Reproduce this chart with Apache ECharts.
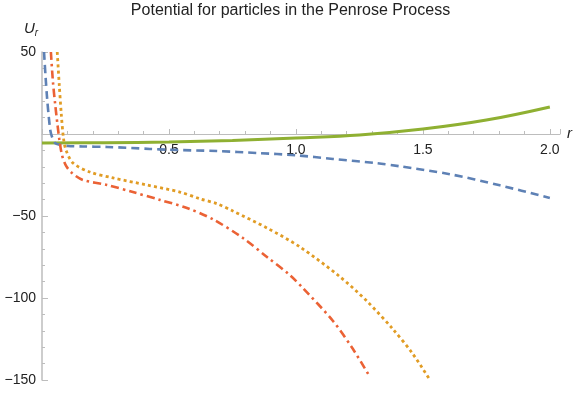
<!DOCTYPE html>
<html>
<head>
<meta charset="utf-8">
<script src="https://cdn.jsdelivr.net/npm/echarts@6/dist/echarts.min.js"></script>
<style>
  html, body { margin: 0; padding: 0; background: #fff; }
  #chart { width: 581px; height: 393px; }
</style>
</head>
<body>
<div id="chart"></div>
<script>
// values
const blueR = [0.008, 0.014, 0.02, 0.027, 0.033, 0.04, 0.051, 0.07, 0.102, 0.16, 0.256, 0.425, 0.5, 0.689, 0.85, 1.0, 1.146, 1.319, 1.409, 1.606, 1.803, 2.0];
const blueU = [50, 35, 22, 10, 2, -2, -5.5, -6.6, -7.3, -7.6, -7.9, -9.1, -9.6, -10.4, -11.6, -13, -15.2, -17.8, -19.7, -24.5, -31.3, -39];

const orangeR = [0.06, 0.068, 0.076, 0.085, 0.095, 0.122, 0.189, 0.28, 0.413, 0.543, 0.622, 0.689, 0.752, 0.886, 1.016, 1.173, 1.28, 1.382, 1.46, 1.528];
const orangeU = [50, 30, 12, -3, -10, -17.7, -23.2, -26.8, -31.1, -35.4, -39.5, -42.5, -47, -57.3, -68.9, -87, -102, -119, -134, -150];

const greenR = [0, 0.25, 0.5, 0.75, 1.0, 1.25, 1.5, 1.75, 2.0];
const greenU = [-5.5, -5.3, -4.9, -3.9, -2.4, -0.6, 3, 8.5, 16.5];

const redR = [0.035, 0.043, 0.052, 0.06, 0.068, 0.079, 0.095, 0.118, 0.161, 0.256, 0.358, 0.465, 0.571, 0.673, 0.791, 0.886, 0.976, 1.028, 1.146, 1.224, 1.291];
const redU = [50, 32, 18, 7, -3, -13, -19.5, -23.8, -28, -31.1, -35.4, -40.2, -45.1, -52, -63.4, -75, -86, -94, -114, -131, -148];

const pairs = (xs, ys) => xs.map((x, i) => [x, ys[i]]);

const axisGray = '#bdbdbd';
const textColor = '#222';

// plot box, y range -150..50, so the r axis (U = 0) sits 50/200 of the way down
const gridTop = 52, gridBottom = 13, chartH = 393;
const zeroOffset = -(chartH - gridTop - gridBottom) * 150 / 200;

const chart = echarts.init(document.getElementById('chart'));

chart.setOption({
    animation: false,
    title: [{
        text: 'Potential for particles in the Penrose Process',
        left: 'center',
        top: 3,
        padding: 0,
        textStyle: { fontFamily: 'Liberation Sans', fontSize: 16, fontWeight: 'normal', color: textColor }
    }, {
        // y axis label, U with subscript r
        text: '{u|U}{s|r}',
        left: 24,
        top: 20,
        padding: 0,
        textStyle: {
            fontWeight: 'normal',
            rich: {
                u: { fontFamily: 'Liberation Sans', fontStyle: 'italic', fontWeight: 'normal', fontSize: 15, color: textColor },
                s: { fontFamily: 'Liberation Sans', fontStyle: 'italic', fontWeight: 'normal', fontSize: 10, color: textColor, padding: [8, 0, 0, 0] }
            }
        }
    }],
    grid: { left: 42, right: 21, top: gridTop, bottom: gridBottom, containLabel: false },
    xAxis: {
        type: 'value',
        min: 0,
        max: 2.04,
        interval: 0.5,
        position: 'bottom',
        offset: zeroOffset,
        name: 'r',
        nameLocation: 'end',
        nameGap: 7,
        nameTextStyle: { fontFamily: 'Liberation Sans', fontStyle: 'italic', fontSize: 15, color: textColor, padding: [0, 0, 6, 0] },
        axisLine: { onZero: false, lineStyle: { color: axisGray, width: 1 } },
        axisTick: { inside: true, length: 5, lineStyle: { color: axisGray } },
        minorTick: { show: true, splitNumber: 5, length: 3, lineStyle: { color: axisGray } },
        axisLabel: {
            margin: 9,
            showMaxLabel: false,
            fontFamily: 'Liberation Sans', fontSize: 14, color: textColor,
            formatter: v => v === 0 ? '' : v.toFixed(1)
        },
        splitLine: { show: false }
    },
    yAxis: {
        type: 'value',
        min: -150,
        max: 50,
        interval: 50,
        axisLine: { onZero: false, lineStyle: { color: axisGray, width: 1.5 } },
        axisTick: { inside: true, length: 6, lineStyle: { color: axisGray } },
        minorTick: { show: true, splitNumber: 5, length: 3, lineStyle: { color: axisGray } },
        axisLabel: {
            margin: 6,
            fontFamily: 'Liberation Sans', fontSize: 14, color: textColor,
            formatter: v => v === 0 ? '' : String(v).replace('-', '\u2212')
        },
        splitLine: { show: false }
    },
    series: [{
        type: 'line',
        data: pairs(greenR, greenU),
        showSymbol: false,
        smooth: 0.4,
        lineStyle: { color: '#8FB032', width: 3 },
        z: 2
    }, {
        type: 'line',
        data: pairs(blueR, blueU),
        showSymbol: false,
        smooth: 0.3,
        lineStyle: { color: '#5E81B5', width: 2.6, type: [8, 5] },
        z: 3
    }, {
        type: 'line',
        data: pairs(orangeR, orangeU),
        showSymbol: false,
        smooth: 0.3,
        lineStyle: { color: '#E19C24', width: 2.8, type: [3, 3.2] },
        z: 3
    }, {
        type: 'line',
        data: pairs(redR, redU),
        showSymbol: false,
        smooth: 0.3,
        lineStyle: { color: '#EB6235', width: 2.6, type: [8, 4, 2.5, 4] },
        z: 3
    }]
});
</script>
</body>
</html>
